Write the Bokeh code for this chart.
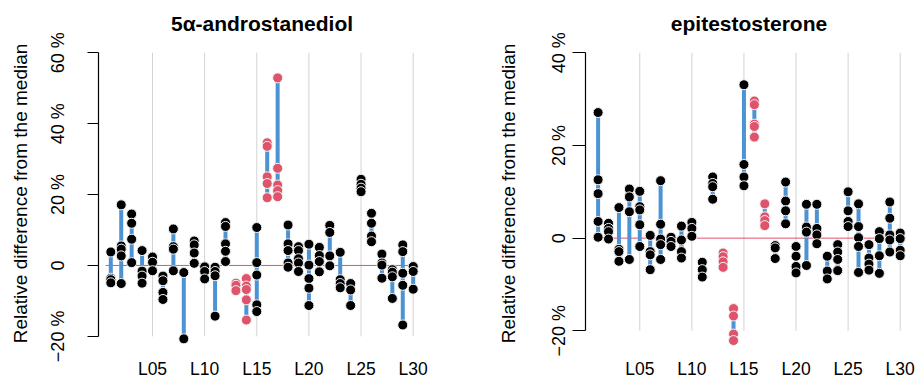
from bokeh.plotting import figure
from bokeh.layouts import row
from bokeh.models import FixedTicker, Range1d, ColumnDataSource
from bokeh.embed import file_html
from bokeh.resources import INLINE

# ---------------- data ----------------
lab_names = ["L01", "L02", "L03", "L04", "L05", "L06", "L07", "L08", "L09", "L10",
             "L11", "L12", "L13", "L14", "L15", "L16", "L17", "L18", "L19", "L20",
             "L21", "L22", "L23", "L24", "L25", "L26", "L27", "L28", "L29", "L30"]
lab_pos = list(range(1, 31))
x_tick_pos = [5, 10, 15, 20, 25, 30]
x_tick_labels = ["L05", "L10", "L15", "L20", "L25", "L30"]

andro_values = [
    [3.8, -3.6, -4.0, -4.9],
    [17.1, 5.5, 4.6, 2.7, -5.1],
    [14.5, 11.9, 7.4, 0.8],
    [4.2, -1.6, -3.0, -5.0],
    [2.4, 0.9, -1.5],
    [-3.0, -4.3, -7.6, -9.6],
    [10.3, 5.3, 4.6, -1.5],
    [-2.0, -20.7],
    [6.9, 5.8, 3.5, 0.6],
    [-0.4, -1.7, -3.8],
    [-0.5, -1.7, -2.9, -14.3],
    [12.1, 11.0, 6.1, 4.0, 1.1],
    [-5.0, -5.6, -7.1],
    [-3.7, -5.8, -6.8, -9.7, -15.4],
    [10.7, 0.8, -2.7, -11.1, -13.0],
    [34.6, 33.6, 25.0, 23.1, 19.1],
    [52.9, 27.4, 22.7, 21.1, 19.4],
    [11.4, 6.1, 4.2, 0.7, -0.5],
    [5.3, 4.2, 1.9, 0.7, -1.7],
    [6.0, 0.1, -3.7, -6.4, -11.3],
    [5.1, 2.8, 1.1, -1.8],
    [11.3, 9.3, 2.7, -0.1],
    [3.7, -4.0, -5.1, -6.3],
    [-5.1, -6.9, -11.3],
    [24.3, 22.9, 21.8, 20.8],
    [14.7, 11.9, 8.3, 6.7],
    [3.2, 0.7, 0.1, -3.6],
    [-1.2, -1.9, -3.2, -9.3],
    [5.8, 3.9, -2.2, -5.6, -16.8],
    [-0.3, -1.7, -6.7],
]
andro_flagged = ["L13", "L14", "L16", "L17"]
andro_yticks = [-20, 0, 20, 40, 60]
andro_ylabels = ["\u221220 %", "0", "20 %", "40 %", "60 %"]

epi_values = [
    [27.1, 12.6, 9.6, 3.6, 0.2],
    [3.2, 2.1, 1.4, -0.2],
    [6.6, -2.4, -2.9, -5.0],
    [10.6, 8.9, 5.7, -4.6],
    [10.1, 6.8, 6.1, 2.9, -1.8],
    [0.6, -2.9, -3.6, -6.8],
    [12.4, 3.0, -0.2, -1.4, -4.6],
    [0.2, -0.7, -1.8],
    [2.6, -0.4, -2.9, -4.3],
    [3.4, 2.1, 0.4],
    [-5.2, -6.8, -8.4],
    [13.2, 11.8, 11.1, 8.4],
    [-3.2, -4.0, -5.1, -6.3],
    [-15.2, -16.8, -20.7, -22.1],
    [33.1, 15.9, 13.2, 11.3],
    [29.6, 28.8, 24.6, 24.1, 21.8],
    [7.4, 4.6, 3.8, 2.7],
    [-1.6, -2.1, -4.4],
    [12.1, 8.0, 5.9, 3.1],
    [-1.8, -3.9, -6.1, -7.5],
    [7.3, 2.4, 1.3, -5.9],
    [7.3, 2.1, 0.7, -1.2],
    [-3.9, -7.1, -8.8],
    [-1.4, -3.0, -4.6, -7.0],
    [10.0, 5.9, 3.6, 2.5],
    [7.4, 2.5, 0.1, -1.8, -7.4],
    [-1.4, -4.3, -5.6, -6.9],
    [1.4, -0.1, -3.8, -7.6],
    [7.8, 4.3, 0.7, -0.4, -3.0],
    [1.1, -0.1, -2.6, -3.8],
]
epi_flagged = ["L13", "L14", "L16", "L17"]
epi_yticks = [-20, 0, 20, 40]
epi_ylabels = ["\u221220 %", "0", "20 %", "40 %"]

# ---------------- style ----------------
FONT = "Liberation Sans"
BLUE = "#4C93D4"
RED = "#DF536B"
GRID = "#D3D3D3"
H = 381
TOP = 40
BOTTOM = 34


def make_panel(title, values, flagged, yticks, ylabels, yrange, xrange, width,
               mbl, mbr, label_standoff, axis_label_standoff, tick_out):
    p = figure(width=width, height=H, output_backend="svg", toolbar_location=None,
               x_range=Range1d(*xrange), y_range=Range1d(*yrange),
               min_border_left=mbl, min_border_right=mbr,
               min_border_top=TOP, min_border_bottom=BOTTOM)
    p.outline_line_color = None
    p.grid.visible = False
    p.background_fill_color = "white"
    p.border_fill_color = "white"

    p.title.text = title
    p.title.align = "center"
    p.title.text_font = FONT
    p.title.text_font_size = "21px"
    p.title.text_font_style = "bold"
    p.title.text_color = "black"
    p.title.standoff = 12

    # vertical guide lines
    p.segment(x0=x_tick_pos, x1=x_tick_pos, y0=[yticks[0]] * len(x_tick_pos),
              y1=[yticks[-1]] * len(x_tick_pos), line_color=GRID, line_width=1)
    # zero line
    p.segment(x0=[0.5], x1=[30.5], y0=[0], y1=[0], line_color=RED, line_width=1)

    # ranges per lab
    p.segment(x0=lab_pos, x1=lab_pos, y0=[min(v) for v in values],
              y1=[max(v) for v in values], line_color=BLUE, line_width=4)

    xs, ys, cols = [], [], []
    for name, pos, v in zip(lab_names, lab_pos, values):
        for val in v:
            xs.append(pos)
            ys.append(val)
            cols.append(RED if name in flagged else "black")
    src = ColumnDataSource(dict(x=xs, y=ys, c=cols))
    p.scatter("x", "y", source=src, size=10, fill_color="c", line_color="#F4F4F4",
              line_width=1)

    # x axis: only the lab labels
    xa = p.xaxis[0]
    xa.ticker = FixedTicker(ticks=x_tick_pos)
    xa.major_label_overrides = {t: l for t, l in zip(x_tick_pos, x_tick_labels)}
    xa.axis_line_color = None
    xa.major_tick_line_color = None
    xa.major_tick_out = 0
    xa.major_tick_in = 0
    xa.minor_tick_line_color = None
    xa.minor_tick_out = 0
    xa.major_label_standoff = 12
    xa.major_label_text_font = FONT
    xa.major_label_text_font_size = "17.5px"
    xa.major_label_text_color = "black"

    # y axis
    ya = p.yaxis[0]
    ya.ticker = FixedTicker(ticks=yticks)
    ya.major_label_overrides = {t: l for t, l in zip(yticks, ylabels)}
    ya.bounds = (yticks[0], yticks[-1])
    ya.axis_line_color = "black"
    ya.axis_line_width = 1.2
    ya.major_tick_line_color = "black"
    ya.major_tick_line_width = 1.2
    ya.major_tick_out = tick_out
    ya.major_tick_in = 0
    ya.minor_tick_line_color = None
    ya.major_label_orientation = "vertical"
    ya.major_label_standoff = label_standoff
    ya.major_label_text_font = FONT
    ya.major_label_text_font_size = "18px"
    ya.major_label_text_color = "black"
    ya.axis_label = "Relative difference from the median"
    ya.axis_label_text_font = FONT
    ya.axis_label_text_font_size = "19px"
    ya.axis_label_text_font_style = "normal"
    ya.axis_label_text_color = "black"
    ya.axis_label_standoff = axis_label_standoff
    return p


p1 = make_panel("5\u03b1-androstanediol", andro_values, andro_flagged,
                andro_yticks, andro_ylabels, (-22.86, 63.45), (-0.18, 31.18),
                457, 98, 32, 19, 15, 11)
p2 = make_panel("epitestosterone", epi_values, epi_flagged,
                epi_yticks, epi_ylabels, (-23.38, 42.65), (-0.21, 31.18),
                458, 128, 3, 3, 28, 13)

layout = row(p1, p2)
open("out.html", "w").write(file_html(layout, INLINE))
